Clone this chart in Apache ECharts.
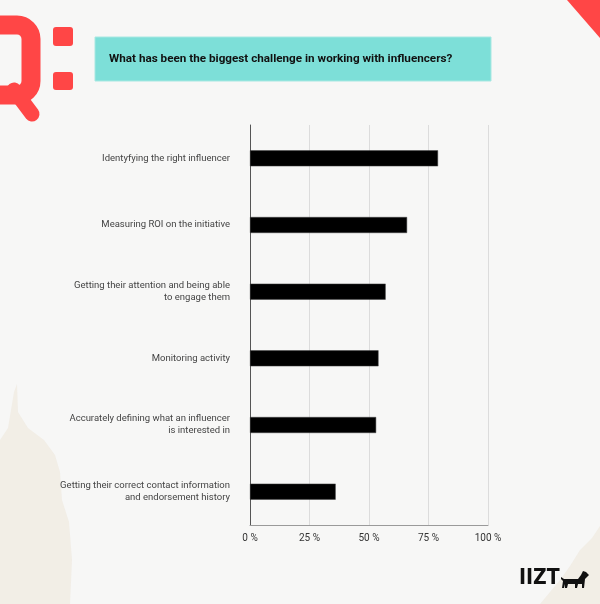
<!DOCTYPE html>
<html>
<head>
<meta charset="utf-8">
<script src="https://cdn.jsdelivr.net/npm/echarts@6/dist/echarts.min.js"></script>
<style>
html,body{margin:0;padding:0;background:#f7f7f6;}
#c{width:600px;height:604px;}
</style>
</head>
<body>
<div id="c"></div>
<script>
var categories = [
  "Identyfying the right influencer",
  "Measuring ROI on the initiative",
  "Getting their attention and being able\nto engage them",
  "Monitoring activity",
  "Accurately defining what an influencer\nis interested in",
  "Getting their correct contact information\nand endorsement history"
];
var values = [79, 66, 57, 54, 53, 36];
var tickValues = [0, 25, 50, 75, 100];
var titleText = "What has been the biggest challenge in working with influencers?";
var logoText = "IIZT";

var FONT = "Roboto, sans-serif";
var RED = "#ff4646";

var chart = echarts.init(document.getElementById('c'), null, {renderer: 'canvas'});
chart.setOption({
  backgroundColor: '#f7f7f6',
  animation: false,
  grid: {left: 250, right: 112, top: 125, height: 400, containLabel: false},
  xAxis: {
    type: 'value', min: tickValues[0], max: tickValues[tickValues.length - 1], interval: 25,
    axisLine: {show: true, lineStyle: {color: '#9a9a9a', width: 1}},
    axisTick: {show: false},
    splitLine: {show: true, lineStyle: {color: '#dcdcdc', width: 1}},
    axisLabel: {formatter: '{value} %', color: '#333', fontSize: 10, fontFamily: FONT, margin: 8}
  },
  yAxis: {
    type: 'category', data: categories, inverse: true,
    axisLine: {show: true, lineStyle: {color: '#555', width: 1}},
    axisTick: {show: false},
    axisLabel: {color: '#444', fontSize: 9.5, fontFamily: FONT, margin: 20, lineHeight: 12, align: 'right'}
  },
  series: [{
    type: 'bar', data: values, barWidth: 16,
    itemStyle: {color: '#000', borderColor: '#444', borderWidth: 0.5}
  }],
  graphic: [
    {type: 'polygon', silent: true, z: -10, shape: {points: [[0,440],[8,428],[14,392],[17,384],[18,412],[28,428],[44,440],[55,455],[60,472],[62,500],[69,522],[72,560],[70,604],[0,604]]}, style: {fill: '#f1ece4', opacity: 0.9}},
    {type: 'polygon', silent: true, z: -10, shape: {points: [[600,526],[592,538],[580,550],[570,566],[560,580],[550,592],[540,604],[600,604]]}, style: {fill: '#f1ece4', opacity: 0.9}},
    {type: 'polygon', silent: true, shape: {points: [[567,0],[600,0],[600,38]]}, style: {fill: RED}},
    {type: 'rect', silent: true, shape: {x: -40, y: 25, width: 71, height: 70, r: 14}, style: {fill: 'none', stroke: RED, lineWidth: 19}},
    {type: 'line', silent: true, shape: {x1: 14, y1: 90, x2: 32, y2: 114}, style: {stroke: RED, lineWidth: 15, lineCap: 'round'}},
    {type: 'rect', silent: true, shape: {x: 53, y: 27, width: 20, height: 19, r: 3}, style: {fill: RED}},
    {type: 'rect', silent: true, shape: {x: 53, y: 72, width: 20, height: 18, r: 3}, style: {fill: RED}},
    {type: 'rect', silent: true, shape: {x: 95, y: 37, width: 396, height: 44}, style: {fill: '#7ddfd8', stroke: '#a8e8e2', lineWidth: 1}},
    {type: 'text', silent: true, x: 109, y: 59, style: {text: titleText, fill: '#111', font: "bold 11.7px " + FONT, textVerticalAlign: 'middle'}},
    {type: 'text', silent: true, x: 519, y: 579, style: {text: logoText, fill: '#111', font: "bold 21px 'DejaVu Sans Condensed', 'Liberation Sans Narrow', sans-serif", textVerticalAlign: 'middle'}},
    {type: 'polygon', silent: true, x: 561, y: 571, shape: {points: [[0,6],[3,8],[17,8],[20,4],[22,0],[25,1],[28,4],[26,6],[24,8],[23,17],[21,17],[21,13],[17,13],[16,17],[14,17],[14,13],[7,13],[6,17],[4,17],[4,13],[3,17],[1,17],[2,10],[0,8]]}, style: {fill: '#111'}}
  ]
});
</script>
</body>
</html>
